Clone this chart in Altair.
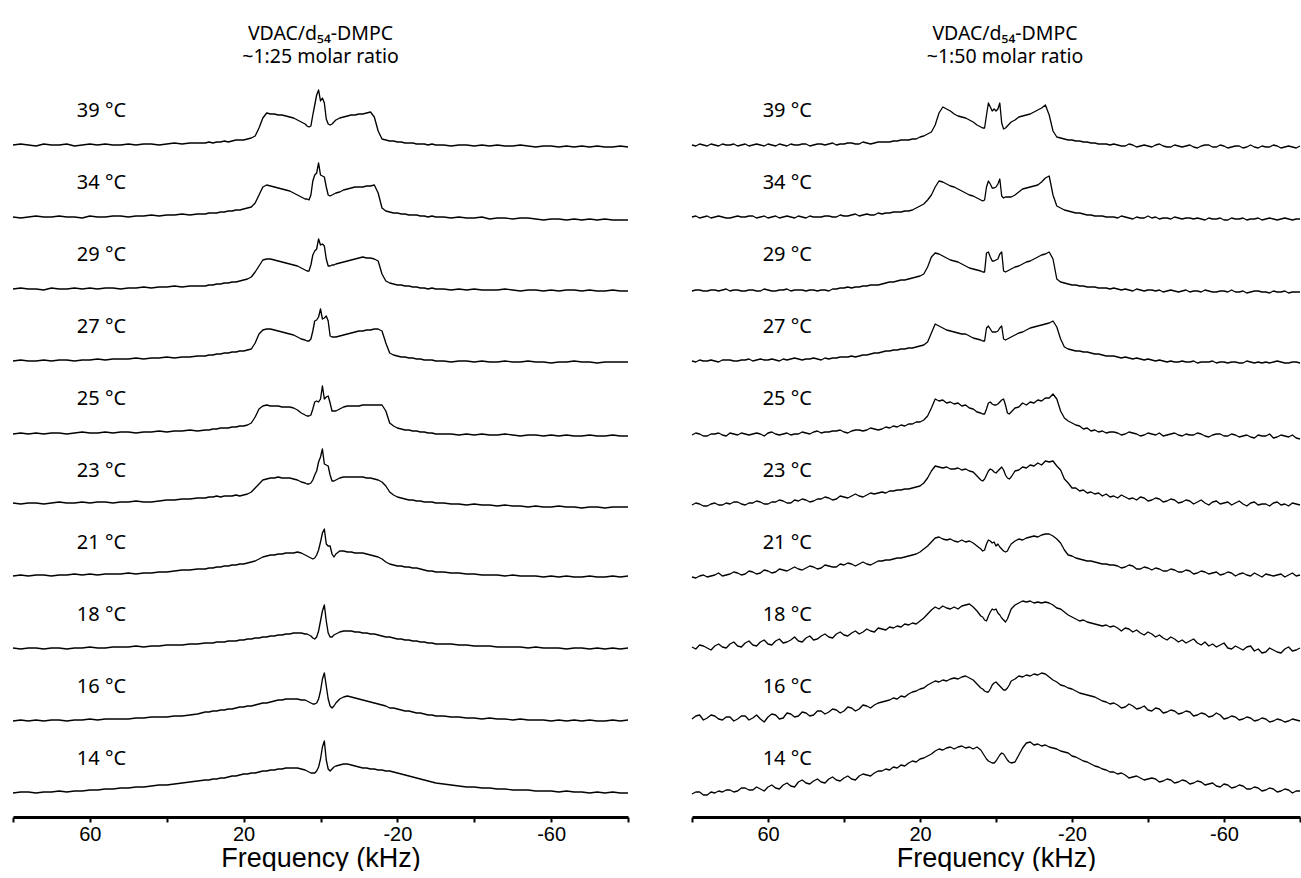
import altair as alt
import pandas as pd

# ---------------- data ----------------
# frequency grid of the left panel (kHz)
freq_left = [80, 78, 76, 74, 72, 70, 68, 66, 64, 62, 60, 58, 56, 54, 52, 50, 48, 46, 44, 42, 40, 38, 36, 34, 32,
             30, 29, 28, 27, 26, 25, 24, 23, 22, 21, 20, 19, 18, 17, 16, 15, 14, 13, 12, 11, 10, 9, 8, 7, 6, 5, 4,
             3.5, 3, 2.5, 2, 1.5, 1, 0.5, 0, -0.5, -1, -1.5, -2, -2.5, -3, -3.5,
             -4, -5, -6, -7, -8, -9, -10, -11, -12, -13, -14, -15, -16, -17, -18, -19, -20, -21, -22, -23, -24, -25, -26, -27, -28, -29, -30,
             -32, -34, -36, -38, -40, -42, -44, -46, -48, -50, -52, -54, -56, -58, -60, -62, -64, -66, -68, -70, -72, -74, -76, -78, -80]

# frequency grid of the right panel (kHz)
freq_right = [80, 79, 78, 77, 76, 75, 74, 73, 72, 71, 70, 69, 68, 67, 66, 65, 64, 63, 62, 61,
              60, 59, 58, 57, 56, 55, 54, 53, 52, 51, 50, 49, 48, 47, 46, 45, 44, 43, 42, 41,
              40, 39, 38, 37, 36, 35, 34, 33, 32, 31,
              30, 29, 28, 27, 26, 25, 24, 23, 22, 21, 20, 19, 18, 17, 16, 15, 14, 13, 12, 11, 10, 9, 8, 7, 6, 5, 4,
              3.5, 3, 2.5, 2, 1.5, 1, 0.5, 0, -0.5, -1, -1.5, -2, -2.5, -3, -3.5,
              -4, -5, -6, -7, -8, -9, -10, -11, -12, -13, -14, -15, -16, -17, -18, -19, -20, -21, -22, -23, -24, -25, -26, -27, -28, -29, -30,
              -31, -32, -33, -34, -35, -36, -37, -38, -39, -40, -41, -42, -43, -44, -45, -46, -47, -48, -49, -50,
              -51, -52, -53, -54, -55, -56, -57, -58, -59, -60, -61, -62, -63, -64, -65, -66, -67, -68, -69, -70,
              -71, -72, -73, -74, -75, -76, -77, -78, -79, -80]

temps = ["39 °C", "34 °C", "29 °C", "27 °C", "25 °C", "23 °C", "21 °C", "18 °C", "16 °C", "14 °C"]
ranks = [9, 8, 7, 6, 5, 4, 3, 2, 1, 0]

# left panel: VDAC/d54-DMPC ~1:25 (intensity above each trace's baseline)
left_39 = [0, 1, 0, -1, 1, 0, 0, 1, -1, 0, 1, 0, 1, 0, 0, 1, 0, 1, 1, 0, 1, 2, 1, 2, 2,
           2, 3, 2, 3, 3, 4, 3, 4, 5, 5, 5, 6, 7, 9, 17, 27, 32, 31, 31, 30, 30, 29, 28, 27, 25, 23, 21,
           19, 18, 19, 30, 40, 50, 55, 44, 47, 42, 26, 21, 20, 21, 23,
           25, 27, 28, 29, 30, 30, 31, 31, 32, 33, 28, 14, 6, 5, 4, 4, 3, 3, 2, 2, 2, 1, 1, 1, 0, 1, 0,
           0, -1, 0, 0, -1, 0, -1, 0, -1, -1, 0, -1, -2, -1, -1, -2, -1, -2, -1, -2, -1, -2, -2, -1, -2]
left_34 = [0, -1, 0, 1, 0, 0, 1, 0, 0, -1, 1, 0, 0, 1, 1, 0, 1, 1, 2, 1, 2, 2, 3, 2, 3,
           3, 4, 4, 4, 5, 5, 6, 6, 7, 7, 8, 9, 10, 14, 22, 30, 32, 31, 30, 29, 28, 27, 26, 24, 22, 20, 18,
           18, 17, 22, 36, 42, 44, 54, 42, 41, 40, 30, 22, 21, 22, 23,
           24, 25, 27, 28, 29, 30, 30, 30, 31, 31, 32, 24, 9, 6, 5, 4, 4, 3, 3, 2, 2, 2, 1, 1, 0, 1, 0,
           0, -1, 0, -1, -1, 0, -2, -1, -1, -2, -1, -1, -2, -3, -2, -2, -3, -2, -3, -2, -3, -2, -3, -3, -3]
left_29 = [0, 1, 0, 0, -1, 1, 0, 0, 1, 0, 1, 0, 1, 1, 0, 1, 1, 2, 1, 2, 2, 3, 2, 3, 3,
           3, 4, 4, 5, 5, 6, 6, 7, 7, 8, 9, 10, 12, 17, 23, 29, 30, 30, 29, 28, 27, 26, 25, 24, 23, 21, 19,
           18, 18, 24, 34, 38, 40, 50, 44, 45, 43, 30, 23, 23, 24, 24,
           25, 26, 27, 28, 29, 30, 31, 32, 31, 31, 30, 28, 15, 8, 6, 5, 4, 4, 3, 3, 2, 2, 1, 1, 0, 1, 0,
           0, -1, 0, -1, 0, -1, -1, -1, 0, -1, -2, -1, -1, -2, -1, -2, -1, -1, -2, -1, -2, -2, -1, -2, -2]
left_27 = [0, 1, 0, 0, 1, 0, 1, 1, 0, 1, 1, 2, 1, 2, 2, 2, 3, 2, 3, 3, 4, 3, 4, 4, 5,
           5, 6, 6, 7, 7, 8, 8, 9, 9, 10, 10, 11, 12, 18, 27, 31, 32, 32, 31, 30, 29, 28, 27, 26, 24, 22, 21,
           20, 20, 22, 30, 40, 41, 44, 52, 42, 43, 45, 40, 25, 24, 24,
           24, 25, 26, 27, 28, 29, 30, 30, 31, 31, 32, 32, 30, 18, 8, 6, 5, 4, 4, 3, 3, 2, 2, 1, 1, 1, 0,
           0, -1, 0, 0, -1, 0, -1, -1, 0, -1, -1, 0, -1, -1, -2, -1, -1, 0, -1, -1, -2, -1, -1, -1, -1]
left_25 = [-1, 0, -1, 0, -1, 0, 0, -1, 0, 1, 0, 0, 1, 0, 1, 1, 0, 1, 1, 2, 1, 2, 2, 3, 2,
           3, 3, 4, 4, 5, 5, 5, 6, 6, 7, 7, 8, 10, 16, 24, 27, 28, 27, 27, 27, 26, 26, 26, 25, 23, 20, 18,
           17, 17, 18, 24, 31, 32, 31, 34, 47, 34, 36, 37, 30, 22, 22,
           22, 24, 26, 27, 27, 27, 27, 28, 28, 28, 28, 28, 28, 22, 10, 7, 5, 4, 3, 3, 2, 2, 1, 1, 0, 0, -1,
           -1, -1, -2, -1, -2, -1, -2, -2, -1, -2, -3, -2, -2, -3, -2, -3, -2, -3, -3, -2, -3, -3, -2, -3, -3]
left_23 = [2, 1, 2, 2, 1, 2, 3, 2, 2, 3, 2, 3, 3, 2, 3, 3, 4, 3, 3, 4, 5, 5, 6, 6, 7,
           7, 8, 8, 9, 8, 9, 9, 9, 10, 9, 10, 11, 13, 17, 21, 25, 26, 27, 27, 28, 27, 27, 27, 26, 25, 23, 22,
           21, 21, 22, 25, 30, 34, 43, 48, 56, 41, 40, 39, 30, 24, 24,
           25, 27, 28, 28, 28, 28, 28, 28, 27, 27, 26, 25, 23, 19, 13, 10, 8, 7, 6, 5, 5, 4, 4, 3, 3, 3, 2,
           2, 1, 1, 0, 1, 0, 0, -1, 0, -1, -1, -2, -1, -2, -2, -1, -2, -2, -3, -2, -2, -3, -2, -2, -2]
left_21 = [1, 2, 1, 2, 2, 1, 2, 2, 3, 2, 3, 2, 3, 3, 3, 4, 3, 4, 4, 5, 5, 6, 7, 7, 8,
           8, 9, 9, 10, 10, 11, 11, 12, 12, 13, 13, 14, 15, 16, 18, 20, 21, 22, 22, 23, 23, 24, 24, 24, 25, 24, 22,
           21, 20, 19, 18, 19, 22, 27, 35, 44, 48, 33, 31, 31, 23, 20,
           23, 26, 26, 25, 25, 24, 24, 24, 23, 22, 21, 20, 18, 15, 13, 12, 11, 11, 10, 10, 9, 9, 8, 7, 6, 6, 5,
           5, 4, 4, 3, 3, 2, 2, 2, 1, 2, 1, 1, 1, 0, 1, 0, 1, 0, 0, 1, 0, 0, 1, 0, 1]
left_18 = [1, 0, 1, 1, 0, 1, 1, 0, 1, 1, 2, 1, 1, 2, 2, 2, 3, 2, 3, 3, 4, 4, 4, 5, 5,
           6, 6, 6, 7, 7, 7, 8, 8, 8, 9, 9, 10, 10, 11, 11, 12, 12, 13, 13, 14, 14, 15, 15, 16, 16, 16, 15,
           15, 14, 13, 11, 10, 12, 18, 28, 38, 44, 28, 16, 12, 12, 14,
           15, 17, 18, 18, 18, 17, 17, 16, 16, 15, 15, 14, 13, 12, 12, 11, 10, 10, 9, 9, 8, 8, 7, 7, 6, 6, 5,
           5, 5, 4, 4, 3, 3, 3, 2, 2, 2, 2, 1, 2, 1, 1, 1, 0, 1, 1, 0, 1, 0, 1, 0, 1]
left_16 = [0, 1, 0, 1, 0, 1, 1, 0, 1, 1, 2, 1, 2, 2, 2, 2, 3, 3, 4, 4, 4, 5, 5, 6, 7,
           9, 9, 10, 10, 11, 11, 12, 12, 13, 14, 14, 15, 15, 16, 17, 18, 18, 19, 20, 21, 21, 22, 22, 22, 22, 21, 21,
           20, 19, 18, 17, 17, 18, 22, 30, 42, 48, 35, 22, 15, 13, 15,
           18, 22, 24, 25, 24, 23, 22, 21, 20, 19, 18, 17, 16, 15, 13, 13, 12, 11, 10, 10, 9, 8, 8, 7, 6, 6, 5,
           5, 4, 4, 3, 3, 2, 3, 2, 2, 1, 2, 1, 1, 1, 0, 1, 0, 1, 0, 1, 0, 0, 1, 0, 1]
left_14 = [0, 1, 1, 0, 1, 1, 2, 1, 2, 2, 3, 3, 4, 4, 5, 5, 6, 6, 7, 8, 8, 9, 10, 11, 12,
           13, 13, 14, 14, 15, 15, 16, 17, 17, 18, 19, 19, 20, 20, 21, 22, 22, 23, 23, 24, 24, 25, 25, 25, 25, 24, 23,
           22, 21, 20, 20, 20, 22, 26, 34, 46, 52, 33, 24, 22, 24, 26,
           27, 28, 29, 29, 28, 27, 26, 25, 25, 24, 24, 23, 23, 22, 22, 21, 20, 19, 18, 17, 16, 15, 14, 13, 12, 11, 10,
           9, 8, 7, 6, 6, 5, 5, 4, 4, 3, 3, 3, 2, 2, 2, 1, 2, 1, 1, 0, 1, 0, 1, 0, 0]

# right panel: VDAC/d54-DMPC ~1:50
right_39 = [0, -1, 1, 0, -1, 1, 0, -1, 1, 0, 0, 1, -1, 0, 1, -1, 0, 1, 0, -1,
            1, 0, -1, 1, 0, -1, 1, 0, 0, 1, 1, -1, 0, 1, 1, 0, 1, 2, 0, 1,
            1, 2, 2, 1, 1, 3, 2, 1, 2, 3,
            3, 3, 3, 4, 4, 5, 5, 5, 6, 6, 8, 9, 11, 13, 20, 32, 38, 36, 34, 31, 29, 28, 27, 25, 23, 20, 18,
            17, 17, 30, 42, 38, 34, 36, 34, 36, 42, 22, 16, 17, 19, 21,
            23, 25, 28, 29, 30, 31, 33, 35, 37, 40, 30, 14, 8, 7, 6, 5, 5, 4, 4, 3, 3, 2, 2, 1, 1, 1, 0,
            1, 0, -1, -1, 1, 0, -2, -1, 0, -1, -2, 0, 1, -1, -2, -2, 0, -1, -2, -1,
            0, -2, -3, -1, 0, 0, -2, -2, 0, -1, -3, -2, -1, -1, -3, -2, 0, -2, -3, -1,
            -2, -2, 0, -1, -3, -2, -1, -2, -3, -1]
right_34 = [0, 1, -1, 0, 1, -1, 0, 1, 0, -1, -1, 0, 1, 0, 0, 1, 1, -1, 0, 1,
            -1, 0, 1, -1, 0, 1, 0, -1, 1, 0, -1, 1, 0, 0, 0, 1, 1, 0, 0, 2,
            1, 1, 2, 3, 1, 2, 3, 2, 2, 4,
            3, 4, 4, 5, 5, 5, 6, 6, 7, 9, 11, 13, 17, 22, 30, 36, 35, 33, 31, 30, 28, 26, 24, 22, 21, 19, 17,
            16, 17, 30, 36, 33, 29, 29, 30, 33, 38, 21, 19, 20, 20, 20,
            20, 22, 25, 28, 29, 30, 31, 32, 35, 39, 41, 22, 11, 9, 7, 6, 5, 4, 4, 3, 2, 2, 1, 1, 1, 0, 0,
            0, -1, 1, 0, -1, -2, 0, -1, -1, 1, -1, 0, -2, -1, -1, -2, 0, -1, -2, -1,
            -1, -2, -1, -2, -3, -1, -2, -2, -1, -3, -3, -1, -2, -2, -1, -3, -2, -2, -1, -3,
            -2, -1, -2, -3, -2, -1, -2, -3, -2, -2]
right_29 = [-2, -1, -1, -2, -2, -1, -1, -2, -1, 0, -2, -1, -1, -2, -2, -1, -1, -2, -2, 0,
            -1, -2, -2, -1, -1, 0, -2, -1, -1, -1, -2, -1, -1, -2, -1, -1, -2, 0, 0, 1,
            1, 2, 1, 2, 2, 3, 3, 4, 4, 4,
            5, 6, 7, 7, 8, 9, 9, 10, 11, 12, 13, 15, 22, 32, 36, 35, 33, 31, 29, 28, 27, 25, 23, 21, 20, 19, 18,
            17, 17, 36, 37, 32, 28, 28, 29, 30, 35, 37, 18, 17, 18, 19,
            20, 22, 23, 25, 27, 28, 30, 32, 34, 35, 37, 30, 10, 7, 6, 5, 4, 4, 3, 3, 2, 2, 2, 1, 1, 1, 0,
            1, 0, -1, 0, -1, -2, 0, -1, -2, -1, -1, -2, -1, -3, -2, -1, -2, -3, -2, -1,
            -3, -2, -2, -3, -1, -2, -3, -3, -2, -2, -3, -1, -3, -3, -2, -4, -3, -2, -2, -3,
            -3, -4, -2, -3, -3, -2, -4, -3, -3, -3]
right_27 = [0, -1, 1, 0, 0, 1, 0, -1, 1, 1, 1, 0, 0, 1, 1, 2, 0, 1, 2, 1,
            1, 2, 1, 0, 2, 1, 2, 3, 2, 1, 2, 2, 3, 2, 1, 3, 2, 3, 3, 4,
            4, 4, 5, 4, 5, 6, 6, 7, 8, 8,
            9, 10, 10, 11, 11, 12, 12, 13, 13, 14, 15, 16, 19, 28, 37, 35, 33, 31, 30, 29, 28, 27, 27, 25, 23, 22, 21,
            20, 20, 33, 35, 32, 29, 29, 29, 30, 33, 35, 22, 21, 22, 23,
            24, 26, 28, 29, 31, 33, 34, 35, 36, 37, 38, 40, 34, 22, 14, 12, 11, 10, 10, 9, 9, 8, 7, 7, 6, 5, 5,
            5, 4, 3, 4, 3, 2, 3, 2, 1, 2, 1, 0, 1, 0, -1, 0, -1, -1, 0, -1,
            -1, 0, -2, -1, -1, -1, 0, -2, -1, -1, -2, -1, -1, -2, -2, 0, -1, -2, -1, -2,
            -1, -2, -1, 0, -1, -2, -2, -1, -1, -2]
right_25 = [-2, 0, -1, -3, -3, -1, -1, 0, -2, -3, 0, -1, -2, 0, -1, -2, -1, 0, -1, -3,
            0, 1, -1, -2, -1, 0, -2, -1, -1, 1, 0, -1, 1, 2, 0, 1, 1, 2, 2, 3,
            1, 0, 2, 3, 3, 2, 3, 5, 4, 3,
            4, 6, 5, 7, 6, 8, 7, 9, 9, 11, 11, 13, 17, 25, 34, 32, 33, 30, 31, 29, 30, 27, 28, 25, 24, 21, 20,
            19, 19, 24, 30, 31, 29, 28, 28, 29, 31, 33, 34, 28, 20, 19,
            21, 25, 26, 30, 28, 31, 30, 33, 32, 35, 35, 39, 34, 22, 15, 12, 10, 8, 7, 4, 5, 2, 3, 1, 2, 0, 1,
            1, 0, -2, -1, 1, 0, -1, -3, -2, 0, -1, -2, 0, -3, -2, -1, 0, -2, -3, -1,
            -2, -2, 0, -1, -3, -4, -2, -1, -1, -3, -3, -1, -2, -4, -3, -2, -4, -5, -2, -3,
            -3, -1, -5, -4, -2, -3, -4, -2, -5, -6]
right_23 = [0, 2, 1, -1, -1, 1, 2, 0, 0, 2, 1, 3, 3, 1, 0, 2, 2, 4, 3, 1,
            1, 3, 3, 5, 4, 2, 2, 5, 4, 6, 5, 3, 4, 6, 6, 8, 7, 5, 6, 9,
            8, 7, 9, 11, 9, 8, 10, 12, 11, 12,
            13, 12, 14, 14, 15, 15, 16, 16, 17, 18, 19, 22, 27, 34, 39, 38, 37, 38, 36, 36, 37, 35, 36, 34, 33, 29, 25,
            24, 26, 30, 34, 36, 35, 33, 32, 34, 36, 38, 35, 30, 27, 26,
            28, 34, 35, 38, 37, 40, 39, 42, 40, 44, 43, 44, 39, 35, 26, 22, 17, 17, 14, 15, 12, 13, 11, 12, 9, 11, 8,
            9, 7, 10, 8, 6, 7, 5, 8, 7, 4, 5, 7, 6, 3, 4, 6, 5, 2, 3, 5,
            4, 1, 3, 5, 2, 0, 3, 4, 1, 2, 3, 0, 2, 4, 1, -1, 2, 3, 0, 1,
            1, -1, 2, 3, 0, 1, -1, 2, 1, 0]
right_21 = [0, -1, 1, 2, 0, 1, 2, 4, 1, 2, 3, 5, 4, 2, 3, 6, 5, 3, 4, 7,
            6, 4, 5, 8, 7, 6, 8, 10, 8, 7, 9, 11, 10, 8, 9, 12, 11, 10, 10, 13,
            12, 14, 13, 11, 13, 15, 13, 12, 14, 16,
            16, 17, 17, 18, 19, 19, 20, 21, 22, 23, 25, 28, 31, 35, 39, 40, 38, 37, 38, 36, 35, 37, 35, 36, 34, 31, 28,
            26, 27, 33, 37, 36, 34, 35, 31, 33, 30, 28, 26, 25, 26, 30,
            33, 36, 38, 37, 39, 40, 41, 40, 42, 43, 43, 41, 38, 34, 27, 22, 21, 19, 18, 17, 16, 16, 15, 14, 13, 13, 12,
            12, 11, 9, 10, 12, 11, 8, 8, 10, 9, 7, 9, 8, 6, 6, 8, 7, 5, 5, 7,
            6, 3, 4, 6, 5, 3, 4, 5, 2, 3, 5, 4, 1, 3, 4, 2, 1, 4, 2, 0,
            3, 2, 1, 2, 3, 0, 2, 4, 1, 2]
right_18 = [2, 0, 4, 3, 1, -1, 3, 5, 2, 1, 5, 7, 3, 2, 6, 8, 4, 3, 7, 9,
            5, 4, 8, 10, 6, 7, 9, 12, 8, 7, 11, 13, 9, 10, 13, 15, 12, 11, 15, 17,
            14, 13, 16, 18, 15, 17, 20, 18, 17, 21,
            20, 19, 22, 21, 23, 22, 25, 24, 26, 25, 28, 31, 35, 39, 42, 40, 43, 41, 40, 42, 40, 43, 44, 45, 42, 38, 33,
            32, 29, 28, 33, 37, 40, 39, 40, 36, 34, 31, 29, 27, 30, 35,
            40, 44, 46, 48, 47, 48, 46, 47, 46, 47, 46, 44, 41, 40, 37, 34, 32, 30, 28, 29, 27, 26, 25, 24, 23, 24, 22,
            23, 21, 18, 21, 20, 17, 19, 16, 14, 17, 15, 12, 14, 11, 9, 12, 10, 7, 9, 6,
            8, 10, 6, 4, 7, 3, 5, 2, 4, 6, 1, 0, 3, 1, -1, 2, 3, -2, 0, -4,
            -3, 1, -1, -3, -4, 0, 2, -2, -1, 1]
right_16 = [2, 5, 6, 1, 3, 6, 5, 2, 1, 4, 4, 0, 2, 5, 5, 1, 3, 6, 2, -1,
            4, 7, 6, 2, 3, 8, 7, 4, 5, 9, 8, 5, 6, 10, 10, 7, 9, 12, 11, 8,
            10, 14, 13, 10, 12, 16, 15, 13, 16, 18,
            19, 20, 21, 23, 22, 25, 24, 27, 29, 30, 32, 33, 36, 38, 40, 39, 41, 40, 42, 43, 42, 44, 45, 43, 41, 37, 33,
            32, 30, 29, 29, 32, 36, 38, 39, 37, 35, 33, 31, 31, 33, 36,
            40, 42, 45, 44, 46, 45, 47, 46, 48, 47, 44, 41, 39, 36, 35, 33, 32, 30, 28, 27, 26, 25, 24, 22, 20, 19, 17,
            18, 16, 13, 14, 17, 15, 12, 13, 15, 11, 10, 13, 12, 8, 9, 11, 10, 7, 8, 10,
            9, 5, 6, 8, 7, 4, 5, 8, 6, 2, 3, 5, 4, 1, 2, 4, 3, 0, 1, 3,
            2, -1, 0, 2, 1, -1, 0, 2, 1, 0]
right_14 = [-1, 1, 1, -2, -2, 1, 0, 2, 1, 3, 3, 1, 2, 5, 5, 3, 3, 6, 4, 2,
            6, 8, 5, 4, 8, 10, 7, 6, 11, 13, 10, 9, 12, 14, 11, 10, 14, 16, 13, 12,
            15, 17, 14, 13, 17, 19, 18, 17, 20, 22,
            22, 24, 23, 26, 25, 28, 27, 30, 32, 31, 34, 35, 37, 39, 42, 44, 43, 45, 46, 44, 46, 47, 45, 46, 44, 46, 43,
            40, 37, 34, 32, 31, 30, 30, 32, 35, 38, 40, 39, 36, 33, 31,
            30, 31, 38, 45, 50, 51, 48, 49, 47, 48, 46, 45, 44, 42, 41, 40, 37, 36, 34, 32, 31, 29, 27, 26, 24, 23, 21,
            21, 19, 20, 18, 15, 16, 17, 15, 13, 14, 15, 14, 11, 12, 14, 13, 10, 11, 13, 12,
            9, 10, 12, 11, 8, 9, 10, 7, 6, 9, 8, 5, 6, 8, 7, 4, 4, 6, 5, 2,
            3, 5, 4, 1, 2, 4, 3, 0, 2, 2]

left_spectra = [left_39, left_34, left_29, left_27, left_25, left_23, left_21, left_18, left_16, left_14]
right_spectra = [right_39, right_34, right_29, right_27, right_25, right_23, right_21, right_18, right_16, right_14]

titles_left = ["VDAC/d\u2085\u2084-DMPC", "~1:25 molar ratio"]
titles_right = ["VDAC/d\u2085\u2084-DMPC", "~1:50 molar ratio"]

STEP = 72          # vertical stacking step between traces
LABEL_RISE = 34    # label height above its trace baseline


def long_frame(freq, spectra):
    rows = []
    for t, r, s in zip(temps, ranks, spectra):
        for i, (f, v) in enumerate(zip(freq, s)):
            rows.append({"freq": f, "y": v + r * STEP, "temp": t, "i": i})
    return pd.DataFrame(rows)


labels_df = pd.DataFrame({"temp": temps, "rank": ranks})
labels_df["ly"] = labels_df["rank"] * STEP + LABEL_RISE

x_axis = alt.Axis(
    values=[80, 60, 40, 20, 0, -20, -40, -60, -80],
    labelExpr="(abs(datum.value) == 20 || abs(datum.value) == 60) ? '' + datum.value : ''",
    title="Frequency (kHz)",
    grid=False,
    labelOverlap=False,
)


def panel(freq, spectra, title_lines, label_f, width, title_dx, sw):
    xs = alt.Scale(domain=[80, -80], nice=False, zero=False)
    ys = alt.Scale(domain=[-24, 719], nice=False, zero=False)
    lines = alt.Chart(long_frame(freq, spectra)).mark_line(
        color="black", strokeWidth=sw, strokeJoin="round"
    ).encode(
        x=alt.X("freq:Q", scale=xs, axis=x_axis),
        y=alt.Y("y:Q", scale=ys, axis=None),
        detail="temp:N",
        order="i:Q",
    )
    text = alt.Chart(labels_df).mark_text(
        align="left", baseline="middle", font="Noto Sans", fontSize=20, color="black"
    ).encode(
        x=alt.datum(label_f),
        y=alt.Y("ly:Q"),
        text="temp:N",
    )
    return alt.layer(lines, text).properties(
        width=width,
        height=743,
        title=alt.TitleParams(
            text=title_lines, font="Noto Sans", fontSize=19.5, fontWeight="normal",
            color="black", anchor="middle", offset=7, lineHeight=23, dx=title_dx,
        ),
    )


left = panel(freq_left, left_spectra, titles_left, 63.4, 615, 0, 1.35)
right = panel(freq_right, right_spectra, titles_right, 61.4, 608, 9, 1.3)

chart = alt.hconcat(left, right, spacing=62).properties(
    padding={"left": 12, "top": 23, "right": 0, "bottom": 0},
    background="white",
).configure_view(stroke=None).configure_axis(
    domainColor="black", domainWidth=3, tickColor="black", tickWidth=2, tickSize=5,
    labelFont="Liberation Sans", labelFontSize=20, labelColor="black", labelPadding=2,
    titleFont="Liberation Sans", titleFontSize=27, titleFontWeight="normal", titleColor="black",
    titlePadding=1,
)

chart.save("out.html", embed_options={"renderer": "svg", "actions": False})
